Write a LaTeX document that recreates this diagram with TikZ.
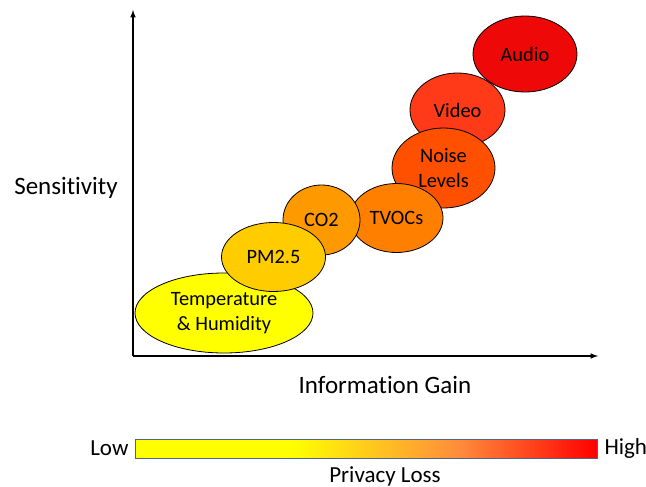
\documentclass[tikz,border=0pt]{standalone}
\usepackage{fontspec}
\setmainfont{Carlito}[Ligatures=NoCommon]
\usepackage{tikz}
\usetikzlibrary{arrows}
\usetikzlibrary{shapes}
\definecolor{tempyellow}{RGB}{255,255,0}
\definecolor{pmgold}{RGB}{255,204,0}
\definecolor{cotwo}{RGB}{255,153,0}
\definecolor{tvoc}{RGB}{255,128,0}
\definecolor{noise}{RGB}{255,80,0}
\definecolor{video}{RGB}{255,58,24}
\definecolor{audio}{RGB}{238,8,8}
\definecolor{lossorange}{RGB}{255,140,60}
\definecolor{barline}{RGB}{80,100,135}
\pgfdeclarehorizontalshading{privacyloss}{100bp}{color(0bp)=(yellow); color(25bp)=(yellow); color(42bp)=(yellow); color(60bp)=(lossorange); color(75bp)=(red); color(100bp)=(red)}

\begin{document}
\begin{tikzpicture}[x=1pt,y=-1pt]
\tikzstyle{sensor} = [ellipse, draw=black, line width=0.8pt, inner sep=0pt, font=\fontsize{20.4}{25}\selectfont, align=center]
\tikzstyle{axis} = [draw=black, line width=1.5pt, -latex]
\tikzstyle{axis label} = [font=\fontsize{25}{29}\selectfont]
\tikzstyle{bar label} = [font=\fontsize{23}{27}\selectfont]

\useasboundingbox (0,0) rectangle (646,487);

\coordinate (O) at (133,356);
\coordinate (ytop) at (133,10);
\coordinate (xend) at (598,356);
\draw[axis] (O) -- (ytop);
\draw[axis] (O) -- (xend);

\node[sensor, fill=tempyellow, minimum width=178, minimum height=80] (T) at (224,313) {Temperature\\\& Humidity};
\node[sensor, fill=audio, minimum width=104, minimum height=76] (A) at (525,54) {Audio};
\node[sensor, fill=video, minimum width=95, minimum height=74] (V) at (457.5,110) {Video};
\node[sensor, fill=noise, minimum width=103, minimum height=80] (N) at (443.5,168) {Noise\\Levels};
\node[sensor, fill=tvoc, minimum width=93, minimum height=69] (TV) at (396.5,218) {TVOCs};
\node[sensor, fill=cotwo, minimum width=77, minimum height=70] (C) at (321.5,220) {CO2};
\node[sensor, fill=pmgold, minimum width=104, minimum height=69] (P) at (273.5,257) {PM2.5};

\node[axis label] (sens) at (66,188) {Sensitivity};
\node[axis label] (gain) at (385,385) {Information Gain};

\draw[shading=privacyloss, draw=barline, line width=0.8pt] (135.5,439) rectangle (597,458);
\node[bar label, anchor=east] (low) at (132,448) {Low};
\node[bar label, anchor=west] (high) at (601,448) {High};
\node[bar label] (loss) at (385,476) {Privacy Loss};
\end{tikzpicture}
\end{document}
